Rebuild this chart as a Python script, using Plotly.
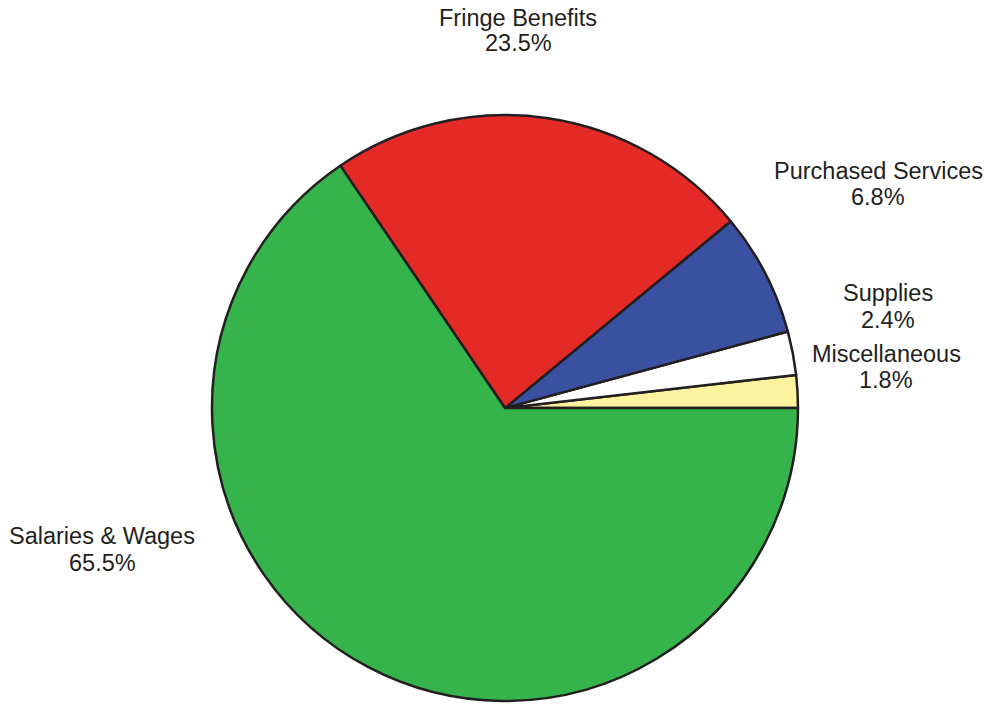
import plotly.graph_objects as go

# Data
categories = ["Miscellaneous", "Supplies", "Purchased Services", "Fringe Benefits", "Salaries & Wages"]
percentages = [1.8, 2.4, 6.8, 23.5, 65.5]

# Styles
slice_colors = ["#fdf39e", "#ffffff", "#3a51a2", "#e42a27", "#34b44a"]
label_positions = {  # pixel centers of (name line, percent line)
    "Miscellaneous": (886, 354, 380),
    "Supplies": (888, 293, 320),
    "Purchased Services": (878, 171, 197),
    "Fringe Benefits": (518, 18, 43),
    "Salaries & Wages": (102, 536, 563),
}

W, H = 985, 704
cx, cy, r = 505, 408, 293

# plotly's counterclockwise pies put the first slice clockwise of `rotation`;
# shift so the first slice starts at 3 o'clock and runs upward
rotation = 90 - percentages[0] / sum(percentages) * 360

fig = go.Figure(go.Pie(
    labels=categories,
    values=percentages,
    sort=False,
    direction="counterclockwise",
    rotation=rotation,
    marker=dict(colors=slice_colors, line=dict(color="#231f20", width=2.5)),
    textinfo="none",
    hoverinfo="label+percent",
    domain=dict(x=[(cx - r) / W, (cx + r) / W], y=[1 - (cy + r) / H, 1 - (cy - r) / H]),
))

font = dict(family="Liberation Sans, Arial, sans-serif", size=23.5, color="#231f20")
annotations = []
for name, pct in zip(categories, percentages):
    px, py1, py2 = label_positions[name]
    for text, py in ((name, py1), (f"{pct}%", py2)):
        annotations.append(dict(
            text=text, x=px / W, y=1 - py / H, xref="paper", yref="paper",
            xanchor="center", yanchor="middle", showarrow=False, font=font,
        ))

fig.update_layout(
    width=W, height=H,
    margin=dict(l=0, r=0, t=0, b=0),
    paper_bgcolor="white", plot_bgcolor="white",
    showlegend=False,
    annotations=annotations,
)

fig.write_html(
    "out.html",
    config={"displayModeBar": False},
    post_script="document.body.style.margin='0px';",
)
